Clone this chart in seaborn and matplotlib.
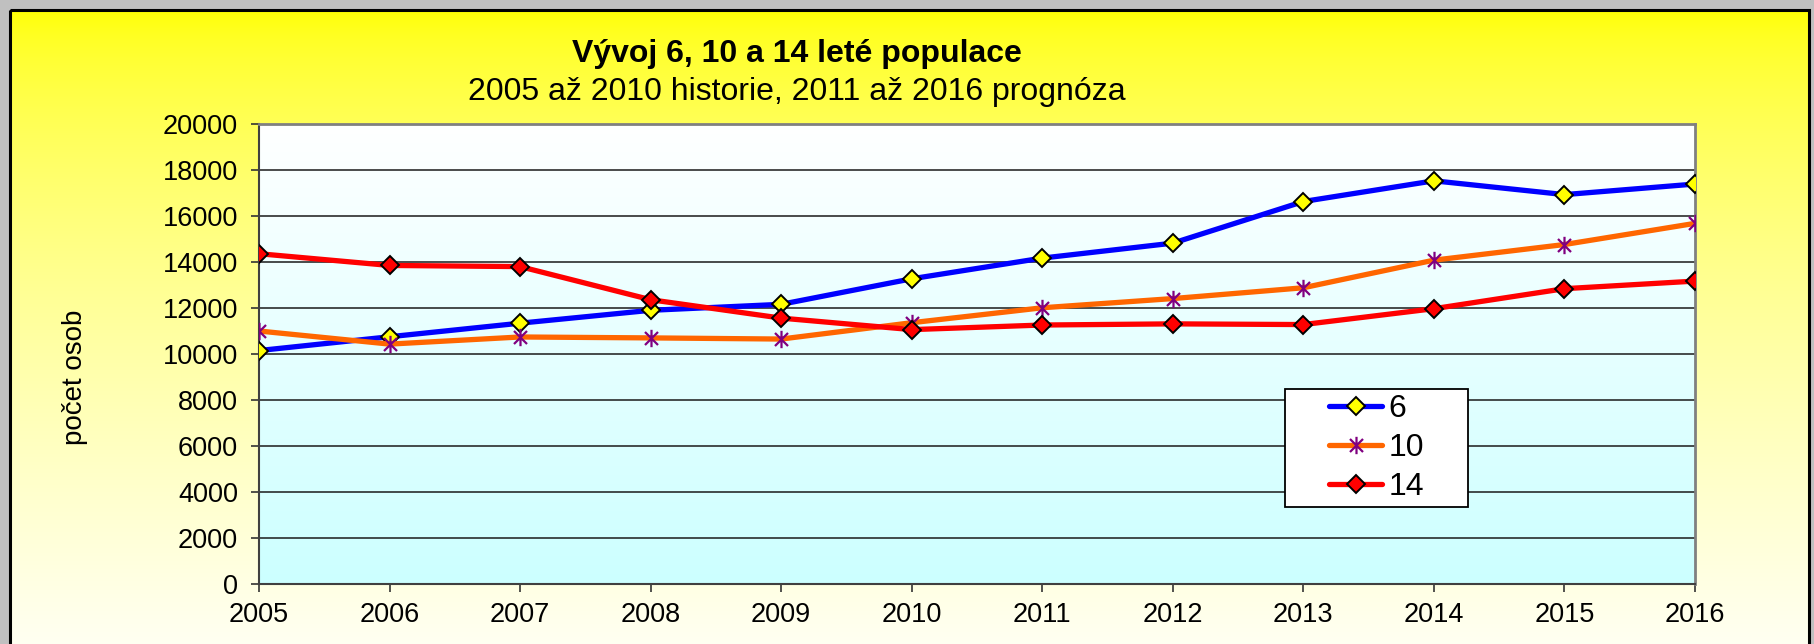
import numpy as np
import pandas as pd
import matplotlib
matplotlib.use("Agg")
import matplotlib.pyplot as plt
from matplotlib.path import Path
from matplotlib.patches import Rectangle
import seaborn as sns

years = [2005, 2006, 2007, 2008, 2009, 2010, 2011, 2012, 2013, 2014, 2015, 2016]
pop6 = [10150, 10750, 11340, 11900, 12160, 13270, 14170, 14820, 16630, 17530, 16930, 17390]
pop10 = [11000, 10430, 10740, 10700, 10650, 11360, 12010, 12410, 12880, 14080, 14760, 15680]
pop14 = [14360, 13850, 13800, 12360, 11560, 11060, 11260, 11310, 11280, 11970, 12840, 13170]
series_names = ["6", "10", "14"]
yticks = list(range(0, 20001, 2000))

title = "Vývoj 6, 10 a 14 leté populace"
subtitle = "2005 až 2010 historie, 2011 až 2016 prognóza"
ylabel = "počet osob"

df = pd.DataFrame({"rok": years, "6": pop6, "10": pop10, "14": pop14})

sns.set_theme(style="white")
plt.rcParams["font.family"] = ["Liberation Sans", "DejaVu Sans"]
plt.rcParams["text.color"] = "black"
plt.rcParams["axes.labelcolor"] = "black"
plt.rcParams["xtick.color"] = "black"
plt.rcParams["ytick.color"] = "black"

W, H = 1814, 644
fig = plt.figure(figsize=(W / 100, H / 100), dpi=100)
fig.patch.set_facecolor("#c0c0c0")

# background panel with yellow gradient
bg = fig.add_axes([0, 0, 1, 1], zorder=-10)
t = np.linspace(0, 1, 256)[:, None]
top_c = np.array([255, 255, 0]) / 255
bot_c = np.array([255, 255, 245]) / 255
grad = top_c[None, None, :] * (1 - t[:, :, None] ** 0.6) + bot_c[None, None, :] * (t[:, :, None] ** 0.6)
bg.imshow(grad, extent=(10, 1809, 660, 10), aspect="auto", zorder=0)
bg.add_patch(Rectangle((10, 10), 1799, 660, fill=False, edgecolor="black", linewidth=2.2, zorder=1))
bg.set_xlim(0, W)
bg.set_ylim(H, 0)
bg.axis("off")

left, right, top, bottom = 259, 1695, 124, 584
ax = fig.add_axes([left / W, 1 - bottom / H, (right - left) / W, (bottom - top) / H])

# plot area gradient white -> light cyan
g2 = np.linspace(0, 1, 256)[:, None]
c_top = np.array([255, 255, 255]) / 255
c_bot = np.array([204, 255, 255]) / 255
grad2 = c_top[None, None, :] * (1 - g2[:, :, None]) + c_bot[None, None, :] * g2[:, :, None]
ax.imshow(grad2, extent=(2005, 2016, 0, 20000), aspect="auto", zorder=0.1)

ast = Path(
    [(0, -1), (0, 1), (-0.75, -0.75), (0.75, 0.75), (-0.75, 0.75), (0.75, -0.75)],
    [Path.MOVETO, Path.LINETO, Path.MOVETO, Path.LINETO, Path.MOVETO, Path.LINETO],
)

lw = 3.8
sns.lineplot(data=df, x="rok", y="6", ax=ax, color="#0000ff", linewidth=lw,
             marker="D", markersize=9, markerfacecolor="#ffff00",
             markeredgecolor="black", markeredgewidth=1.4, label=series_names[0], zorder=3)
sns.lineplot(data=df, x="rok", y="10", ax=ax, color="#ff6600", linewidth=lw,
             marker=ast, markersize=12.5, markerfacecolor="none",
             markeredgecolor="#800080", markeredgewidth=1.6, label=series_names[1], zorder=3)
sns.lineplot(data=df, x="rok", y="14", ax=ax, color="#ff0000", linewidth=lw,
             marker="D", markersize=9, markerfacecolor="#ff0000",
             markeredgecolor="black", markeredgewidth=1.4, label=series_names[2], zorder=3)

ax.set_xlim(2005, 2016)
ax.set_ylim(0, 20000)
ax.set_xticks(years)
ax.set_xticklabels([str(y) for y in years])
ax.set_yticks(yticks)
ax.set_yticklabels([str(v) for v in yticks])
ax.set_axisbelow(True)
ax.grid(axis="y", color="#1a1a1a", linewidth=1.1)
ax.grid(axis="x", visible=False)
ax.tick_params(axis="both", direction="out", length=6, width=1.2, color="#333333",
               labelsize=19.5, labelcolor="black", bottom=True, left=True)
ax.tick_params(axis="y", pad=9)
ax.tick_params(axis="x", pad=7)
for s in ["left", "bottom"]:
    ax.spines[s].set_color("#404040")
    ax.spines[s].set_linewidth(1.5)
for s in ["top", "right"]:
    ax.spines[s].set_color("#808080")
    ax.spines[s].set_linewidth(2)
ax.set_xlabel("")
ax.set_ylabel("")

fig.text(75 / W, 1 - 377 / H, ylabel, rotation=90, ha="center", va="center", fontsize=20)
fig.text(797 / W, 1 - 54 / H, title, ha="center", va="center", fontsize=23, fontweight="bold")
fig.text(797 / W, 1 - 92 / H, subtitle, ha="center", va="center", fontsize=23)

# legend box drawn separately, legend content centred inside it
bx, by, bw, bh = 0.7145, 0.167, 0.1275, 0.257
ax.add_patch(Rectangle((bx, by), bw, bh, transform=ax.transAxes, facecolor="white",
                       edgecolor="black", linewidth=1.3, zorder=4.5))
leg = ax.legend(loc="center", bbox_to_anchor=(bx + bw / 2, by + bh / 2),
                fontsize=23, frameon=False, borderpad=0, labelspacing=0.28,
                handlelength=1.65, handletextpad=0.2, borderaxespad=0)
leg.set_zorder(5)

fig.savefig("out.png", dpi=100, facecolor=fig.get_facecolor())
